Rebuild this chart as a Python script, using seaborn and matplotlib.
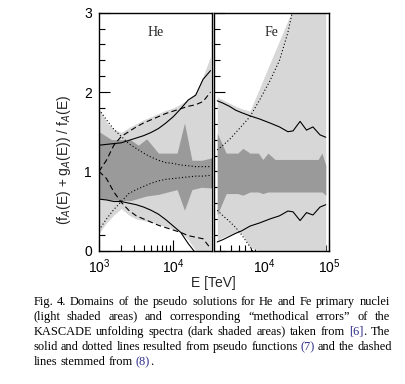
import re
import numpy as np
import pandas as pd
import seaborn as sns
import matplotlib.pyplot as plt
from matplotlib.ticker import MultipleLocator, LogLocator, NullFormatter
from matplotlib.backends import backend_agg

# ---- He panel (x = log10 E/TeV) ----
he_lg = [3.0, 3.1, 3.2, 3.3, 3.4, 3.5, 3.6, 3.7, 3.8, 3.9, 4.0, 4.1, 4.2, 4.3, 4.4, 4.5]
he_light_hi = [1.79, 1.62, 1.53, 1.49, 1.55, 1.60, 1.65, 1.69, 1.73, 1.77, 1.80, 1.85, 1.91, 1.99, 2.20, 2.45]
he_light_lo = [0.22, 0.35, 0.45, 0.53, 0.45, 0.40, 0.38, 0.36, 0.33, 0.30, 0.27, 0.23, 0.14, 0.0, 0.0, 0.0]
he_solid_hi = [1.33, 1.34, 1.35, 1.36, 1.39, 1.42, 1.45, 1.49, 1.54, 1.61, 1.69, 1.79, 1.90, 1.96, 2.16, 2.27]
he_solid_lo = [0.65, 0.64, 0.62, 0.62, 0.60, 0.58, 0.55, 0.51, 0.46, 0.39, 0.31, 0.23, 0.09, -0.03, -0.15, -0.30]
he_dash_hi = [1.00, 1.14, 1.33, 1.44, 1.50, 1.56, 1.61, 1.65, 1.69, 1.73, 1.76, 1.79, 1.82, 1.84, 1.88, 2.00]
he_dash_lo = [1.00, 0.91, 0.74, 0.61, 0.51, 0.44, 0.40, 0.36, 0.32, 0.29, 0.26, 0.23, 0.19, 0.17, 0.15, 0.03]
he_dot_hi = [1.78, 1.65, 1.53, 1.44, 1.35, 1.29, 1.23, 1.18, 1.14, 1.11, 1.10, 1.08, 1.07, 1.06, 1.06, 1.06]
he_dot_lo = [0.26, 0.40, 0.52, 0.62, 0.72, 0.77, 0.81, 0.85, 0.88, 0.90, 0.91, 0.92, 0.93, 0.94, 0.94, 0.95]

# KASCADE "methodical errors" band, He
he_dark_lg = [3.0, 3.17, 3.42, 3.53, 3.64, 3.80, 4.05, 4.15, 4.25, 4.38, 4.52]
he_dark_hi = [1.50, 1.40, 1.40, 1.33, 1.41, 1.23, 1.23, 1.61, 1.14, 1.14, 1.17]
he_dark_lo = [0.66, 0.64, 0.63, 0.66, 0.69, 0.71, 0.77, 0.51, 0.77, 0.80, 0.79]

# ---- Fe panel ----
fe_lg = [3.26, 3.35, 3.45, 3.55, 3.64, 3.77, 3.92, 4.08, 4.23, 4.36, 4.44, 4.55, 4.65, 4.75, 4.86, 4.95]
fe_light_hi = [1.94, 1.90, 1.86, 1.82, 1.79, 1.76, 2.05, 2.36, 2.65, 2.90, 3.05, 3.2, 3.2, 3.2, 3.2, 3.2]
fe_light_lo = [0.13, 0.17, 0.20, 0.23, 0.22, 0.04, 0.0, 0.0, 0.0, 0.0, 0.0, 0.0, 0.0, 0.0, 0.0, 0.0]
fe_solid_hi = [1.89, 1.86, 1.82, 1.77, 1.74, 1.70, 1.66, 1.61, 1.56, 1.50, 1.51, 1.63, 1.52, 1.56, 1.46, 1.43]
fe_solid_lo = [0.11, 0.14, 0.18, 0.22, 0.25, 0.31, 0.35, 0.40, 0.44, 0.50, 0.49, 0.38, 0.48, 0.45, 0.55, 0.58]
fe_dot_hi = [1.27, 1.33, 1.40, 1.49, 1.57, 1.69, 1.90, 2.14, 2.40, 2.75, 3.05] + [np.nan] * 5
fe_dot_lo = [0.51, 0.44, 0.37, 0.29, 0.20, 0.05, -0.15] + [np.nan] * 9

fe_dark_lg = [3.26, 3.40, 3.58, 3.66, 3.77, 3.90, 3.97, 4.05, 4.16, 4.83, 4.89, 4.95]
fe_dark_hi = [1.48, 1.23, 1.23, 1.29, 1.23, 1.23, 1.15, 1.23, 1.15, 1.15, 1.23, 1.08]
fe_dark_lo = [0.45, 0.72, 0.72, 0.70, 0.74, 0.74, 0.72, 0.74, 0.74, 0.74, 0.74, 0.70]

caption = [
    "Fig. 4. Domains of the pseudo solutions for He and Fe primary nuclei",
    "(light shaded areas) and corresponding \u201cmethodical errors\u201d of the",
    "KASCADE unfolding spectra (dark shaded areas) taken from [6]. The",
    "solid and dotted lines resulted from pseudo functions (7) and the dashed",
    "lines stemmed from (8).",
]

sns.set_theme(style="ticks")
plt.rcParams['font.family'] = ['Liberation Sans', 'DejaVu Sans']

LIGHT = '#d7d7d7'
DARK = '#9a9a9a'
W, H = 406, 384

# Agg rounds every text to whole pixels on its own, so words set one by one
# wobble up and down; pin caption words to a common pixel baseline instead.
_draw_text = backend_agg.RendererAgg.draw_text


def _draw_text_snapped(self, gc, x, y, s, prop, angle, ismath=False, mtext=None):
    base = getattr(mtext, '_base_px', None)
    if base is not None and not ismath:
        try:
            font = self._prepare_font(prop)
            font.set_text(s, 0, flags=backend_agg.get_hinting_flag())
            d64 = font.get_descent()
            h64 = font.get_width_height()[1]
            yo = font.get_bitmap_offset()[1] / 64.0
            k = int(h64 / 64) - int((h64 - d64) / 64)
            y = base + k - d64 / 64.0 - yo
        except Exception:
            pass
    return _draw_text(self, gc, x, y, s, prop, angle, ismath=ismath, mtext=mtext)


backend_agg.RendererAgg.draw_text = _draw_text_snapped

fig = plt.figure(figsize=(W / 100, H / 100), dpi=100)
ax_he = fig.add_axes([99 / W, 1 - 250.7 / H, 113 / W, 238 / H])
ax_fe = fig.add_axes([214 / W, 1 - 250.7 / H, 115 / W, 238 / H])


def draw_panel(ax, lg, light_hi, light_lo, dark_lg, dark_hi, dark_lo, lines, name, xlim):
    E = 10 ** np.array(lg)
    Ed = 10 ** np.array(dark_lg)
    ax.fill_between(E, light_lo, light_hi, color=LIGHT, lw=0, zorder=1)
    ax.fill_between(Ed, dark_lo, dark_hi, color=DARK, lw=0, zorder=2)
    for vals, ls in lines:
        df = pd.DataFrame({'E': E, 'r': vals}).dropna()
        sns.lineplot(data=df, x='E', y='r', ax=ax, color='black', lw=0.8,
                     linestyle=ls, estimator=None, sort=False, zorder=3)
    ax.set_xscale('log')
    ax.set_xlim(*xlim)
    ax.set_ylim(0, 3)
    ax.xaxis.set_major_locator(LogLocator(base=10))
    ax.xaxis.set_minor_locator(LogLocator(base=10, subs=np.arange(2, 10)))
    ax.xaxis.set_minor_formatter(NullFormatter())
    ax.yaxis.set_major_locator(MultipleLocator(1))
    ax.yaxis.set_minor_locator(MultipleLocator(0.2))
    ax.tick_params(which='both', direction='in', top=False, right=False,
                   labelsize=10, colors='black')
    ax.tick_params(axis='y', pad=5)
    ax.tick_params(axis='x', pad=5)
    ax.tick_params(which='major', length=8, width=0.8)
    ax.tick_params(which='minor', length=4.5, width=0.8)
    for s in ax.spines.values():
        s.set_visible(True)
        s.set_linewidth(1.0)
        s.set_color('black')
    ax.set_xlabel('')
    ax.set_ylabel('')
    ax.set_facecolor('white')
    ax.text(0.5, 0.915, name, transform=ax.transAxes, ha='center', va='center',
            fontsize=10, family=['Liberation Serif', 'DejaVu Serif'])


dash = (0, (5, 3))
dot = (0, (1, 2))
draw_panel(ax_he, he_lg, he_light_hi, he_light_lo, he_dark_lg, he_dark_hi, he_dark_lo,
           [(he_solid_hi, '-'), (he_solid_lo, '-'), (he_dash_hi, dash), (he_dash_lo, dash),
            (he_dot_hi, dot), (he_dot_lo, dot)],
           'He', (1e3, 10 ** 4.52))
draw_panel(ax_fe, fe_lg, fe_light_hi, fe_light_lo, fe_dark_lg, fe_dark_hi, fe_dark_lo,
           [(fe_solid_hi, '-'), (fe_solid_lo, '-'), (fe_dot_hi, dot), (fe_dot_lo, dot)],
           'Fe', (10 ** 3.21, 1e5))
ax_fe.tick_params(axis='y', labelleft=False)

ax_he.set_ylabel('(f$_A$(E) + g$_A$(E)) / f$_A$(E)', fontsize=10)
ax_he.yaxis.set_label_coords(-0.23, 0.38)
fig.text(213 / W, 1 - 283 / H, 'E [TeV]', ha='center', va='center', fontsize=10)

# ---- caption: justified with hair spaces, one text per word ----
serif = ['Liberation Serif', 'DejaVu Serif']
refs = r'(\[6\]|\(7\)|\(8\))'
x0, x1 = 33.5, 390.0
baselines = [305, 320, 335, 350, 365]
renderer = fig.canvas.get_renderer()
HAIR = '\u200a'


def width(s, size):
    t = fig.text(0, 0, s, fontsize=size, family=serif)
    w = t.get_window_extent(renderer).width
    t.remove()
    return w


fs = 10 * (x1 - x0) / max(width(line, 10) for line in caption[:-1])
hair_w = (width('x' + HAIR * 20 + 'x', fs) - width('xx', fs)) / 20


def justify(line):
    words = line.split(' ')
    extra = (x1 - x0) - width(line, fs)
    n = max(0, int(round(extra / hair_w))) if hair_w > 0 else 0
    gaps = len(words) - 1
    out = words[0]
    for k in range(gaps):
        add = (n * (k + 1)) // gaps - (n * k) // gaps
        out += ' ' + HAIR * add + words[k + 1]
    return out


for i, line in enumerate(caption):
    full = line if i == len(caption) - 1 else justify(line)
    y = 1 - baselines[i] / H
    pos = 0
    for word in full.split(' '):
        start = pos
        pos += len(word) + 1
        word_start = start + len(word) - len(word.lstrip(HAIR))
        j = word_start
        for part in [p for p in re.split(refs, word.lstrip(HAIR)) if p]:
            j += len(part)
            col = '#2e2e8c' if re.fullmatch(refs, part) else 'black'
            x = x0 + width(full[:j], fs) - width(part, fs)
            t = fig.text(x / W, y, part, fontsize=fs, family=serif, color=col,
                         va='baseline', ha='left')
            t._base_px = baselines[i]

fig.savefig('out.png', dpi=100)
